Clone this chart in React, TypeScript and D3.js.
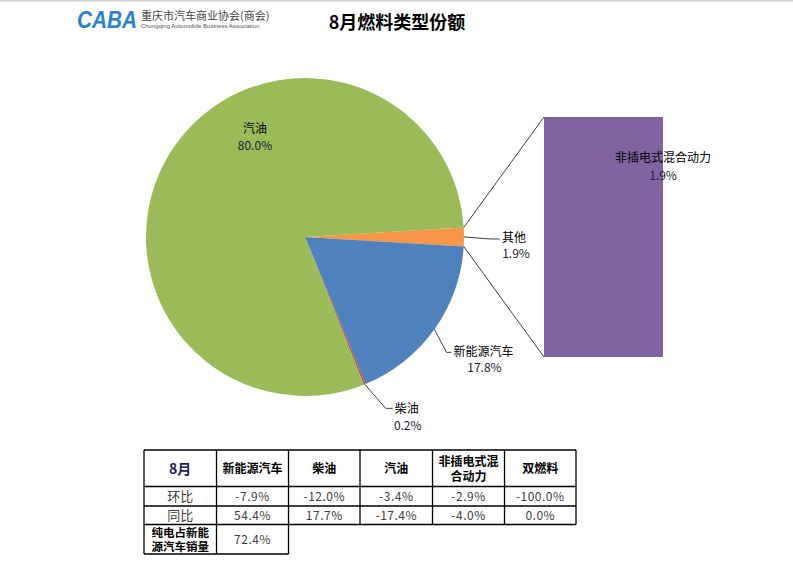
import React from 'react';
import * as d3 from 'd3';

// slice order follows the chart: split slice first, then clockwise
const sliceNames = ['其他', '新能源汽车', '柴油', '汽油'];
const sliceValues = [1.9, 17.8, 0.2, 80.0];
const sliceColors = ['#F79646', '#4F81BD', '#C0504D', '#9BBB59'];

const barNames = ['非插电式混合动力'];
const barValues = [1.9];
const barColor = '#8064A2';

const tableHeaders = ['8月', '新能源汽车', '柴油', '汽油', '非插电式混合动力', '双燃料'];
const momValues = ['-7.9%', '-12.0%', '-3.4%', '-2.9%', '-100.0%'];
const yoyValues = ['54.4%', '17.7%', '-17.4%', '-4.0%', '0.0%'];
const bevShare = '72.4%';

const W = 793;
const H = 573;
const FONT = '"Noto Sans CJK SC", "Noto Sans", sans-serif';

export default function App() {
  const cx = 305;
  const cy = 237;
  const r = 159;

  const splitAngle = (sliceValues[0] / d3.sum(sliceValues)) * 2 * Math.PI;
  const pie = d3.pie<number>()
    .sort(null)
    .value(d => d)
    .startAngle(Math.PI / 2 - splitAngle / 2)
    .endAngle(Math.PI / 2 - splitAngle / 2 + 2 * Math.PI);
  const arcs = pie(sliceValues);
  const arc = d3.arc<d3.PieArcDatum<number>>().innerRadius(0).outerRadius(r);

  const polar = (a: number, rad: number): [number, number] => [
    cx + Math.sin(a) * rad,
    cy - Math.cos(a) * rad,
  ];

  // secondary bar (pie of pie)
  const barX = d3.scaleBand().domain(barNames).range([544, 663]).padding(0);
  const barY = d3.scaleLinear().domain([0, d3.sum(barValues)]).range([357, 117]);

  const split = arcs[0];
  const topEdge = polar(split.startAngle, r);
  const botEdge = polar(split.endAngle, r);

  // leader lines for outside labels
  const mid = (d: d3.PieArcDatum<number>) => (d.startAngle + d.endAngle) / 2;
  const otherPt = polar(mid(arcs[0]), r);
  const nevPt = polar(mid(arcs[1]), r);
  const dieselPt = polar(mid(arcs[2]), r);

  // table geometry
  const colX = [144, 216.5, 288.5, 360, 432.5, 504.5, 576];
  const rowY = [450, 486.5, 506, 524.5, 554];

  const labelStyle = { fontFamily: FONT, fontSize: 12 };

  return (
    <svg width={W} height={H} style={{ position: 'absolute', left: 0, top: 0, background: '#fff' }}>
      <rect x={0} y={0} width={W} height={H} fill="#fff" />
      <line x1={0} x2={W} y1={0.5} y2={0.5} stroke="#d0d0d0" strokeWidth={2} />

      {/* logo */}
      <g>
        <text x={77} y={28} fontFamily="Arial, sans-serif" fontWeight="bold" fontStyle="italic"
          fontSize={23} fill="#2b7fd4" textLength={60} lengthAdjust="spacingAndGlyphs">CABA</text>
        <text x={141} y={20} fontFamily={FONT} fontSize={11} fill="#444">重庆市汽车商业协会(商会)</text>
        <text x={141} y={28} fontFamily="Arial, sans-serif" fontSize={6} fill="#555">Chongqing Automobile Business Association</text>
      </g>

      <text x={397} y={29} textAnchor="middle" fontFamily={FONT} fontWeight="bold" fontSize={18} fill="#000">
        8月燃料类型份额
      </text>

      {/* pie */}
      <g transform={`translate(${cx},${cy})`}>
        {arcs.map((d, i) => (
          <path key={sliceNames[i]} d={arc(d) || ''} fill={sliceColors[i]} />
        ))}
      </g>

      {/* connector lines */}
      <line x1={topEdge[0]} y1={topEdge[1]} x2={barX(barNames[0])!} y2={barY(barValues[0])} stroke="#404040" strokeWidth={1} />
      <line x1={botEdge[0]} y1={botEdge[1]} x2={barX(barNames[0])!} y2={barY(0)} stroke="#404040" strokeWidth={1} />

      {/* bar */}
      {barNames.map((n, i) => (
        <rect key={n} x={barX(n)} y={barY(barValues[i])} width={barX.bandwidth()}
          height={barY(0) - barY(barValues[i])} fill={barColor} />
      ))}

      {/* leader lines */}
      <g stroke="#404040" strokeWidth={1} fill="none">
        <polyline points={`${otherPt[0]},${otherPt[1]} ${otherPt[0] + 27},${otherPt[1] + 2} ${otherPt[0] + 36},${otherPt[1] + 2}`} />
        <polyline points={`${nevPt[0]},${nevPt[1]} ${nevPt[0] + 12},${nevPt[1] + 23} ${nevPt[0] + 17},${nevPt[1] + 23}`} />
        <polyline points={`${dieselPt[0]},${dieselPt[1]} ${dieselPt[0] + 21},${dieselPt[1] + 24} ${dieselPt[0] + 28},${dieselPt[1] + 24}`} />
      </g>

      {/* labels */}
      <g style={labelStyle}>
        <text x={cx - 50} y={cy - 104} textAnchor="middle" fill="#000">{sliceNames[3]}</text>
        <text x={cx - 50} y={cy - 87} textAnchor="middle" fill="#1a1a3a">{sliceValues[3].toFixed(1)}%</text>

        <text x={otherPt[0] + 38} y={otherPt[1] + 5} fill="#000">{sliceNames[0]}</text>
        <text x={otherPt[0] + 52} y={otherPt[1] + 21} textAnchor="middle" fill="#1a1a3a">{sliceValues[0].toFixed(1)}%</text>

        <text x={nevPt[0] + 19} y={nevPt[1] + 27} fill="#000">{sliceNames[1]}</text>
        <text x={nevPt[0] + 50} y={nevPt[1] + 43} textAnchor="middle" fill="#1a1a3a">{sliceValues[1].toFixed(1)}%</text>

        <text x={dieselPt[0] + 30} y={dieselPt[1] + 29} fill="#000">{sliceNames[2]}</text>
        <text x={dieselPt[0] + 43} y={dieselPt[1] + 46} textAnchor="middle" fill="#1a1a3a">{sliceValues[2].toFixed(1)}%</text>

        <text x={barX(barNames[0])! + barX.bandwidth()} y={162} textAnchor="middle" fill="#000">{barNames[0]}</text>
        <text x={barX(barNames[0])! + barX.bandwidth()} y={180} textAnchor="middle" fill="#1a1a3a">{barValues[0].toFixed(1)}%</text>
      </g>

      {/* table */}
      <g fontFamily={FONT}>
        {tableHeaders.map((h, i) => {
          const x = (colX[i] + colX[i + 1]) / 2;
          const twoLine = h.length > 5;
          if (i === 0) {
            return (
              <text key={h} x={x} y={474} textAnchor="middle" fontWeight="bold" fontSize={14} fill="#1f1f5f">{h}</text>
            );
          }
          return twoLine ? (
            <text key={h} textAnchor="middle" fontWeight="bold" fontSize={12} fill="#000">
              <tspan x={x} y={466}>{h.slice(0, 5)}</tspan>
              <tspan x={x} y={481}>{h.slice(5)}</tspan>
            </text>
          ) : (
            <text key={h} x={x} y={473} textAnchor="middle" fontWeight="bold" fontSize={12} fill="#000">{h}</text>
          );
        })}
        {[['环比', momValues], ['同比', yoyValues]].map(([label, vals], ri) => {
          const y = (rowY[ri + 1] + rowY[ri + 2]) / 2 + 5;
          return (
            <g key={label as string}>
              <text x={(colX[0] + colX[1]) / 2} y={y} textAnchor="middle" fontSize={13} fill="#404040">{label as string}</text>
              {(vals as string[]).map((v, ci) => (
                <text key={ci} x={(colX[ci + 1] + colX[ci + 2]) / 2} y={y} textAnchor="middle"
                  fontSize={12} fill="#404040" letterSpacing={0.5}>{v}</text>
              ))}
            </g>
          );
        })}
        <text textAnchor="middle" fontWeight="bold" fontSize={11.5} fill="#000">
          <tspan x={(colX[0] + colX[1]) / 2} y={537}>纯电占新能</tspan>
          <tspan x={(colX[0] + colX[1]) / 2} y={551}>源汽车销量</tspan>
        </text>
        <text x={(colX[1] + colX[2]) / 2} y={544} textAnchor="middle" fontSize={12} fill="#404040" letterSpacing={0.5}>{bevShare}</text>

        <g stroke="#000" strokeWidth={1.3} fill="none">
          {rowY.slice(0, 4).map((y, i) => (
            <line key={'h' + i} x1={colX[0]} x2={colX[6]} y1={y} y2={y} />
          ))}
          <line x1={colX[0]} x2={colX[2]} y1={rowY[4]} y2={rowY[4]} />
          {colX.map((x, i) => (
            <line key={'v' + i} x1={x} x2={x} y1={rowY[0]} y2={i <= 2 ? rowY[4] : rowY[3]} />
          ))}
        </g>
      </g>
    </svg>
  );
}
